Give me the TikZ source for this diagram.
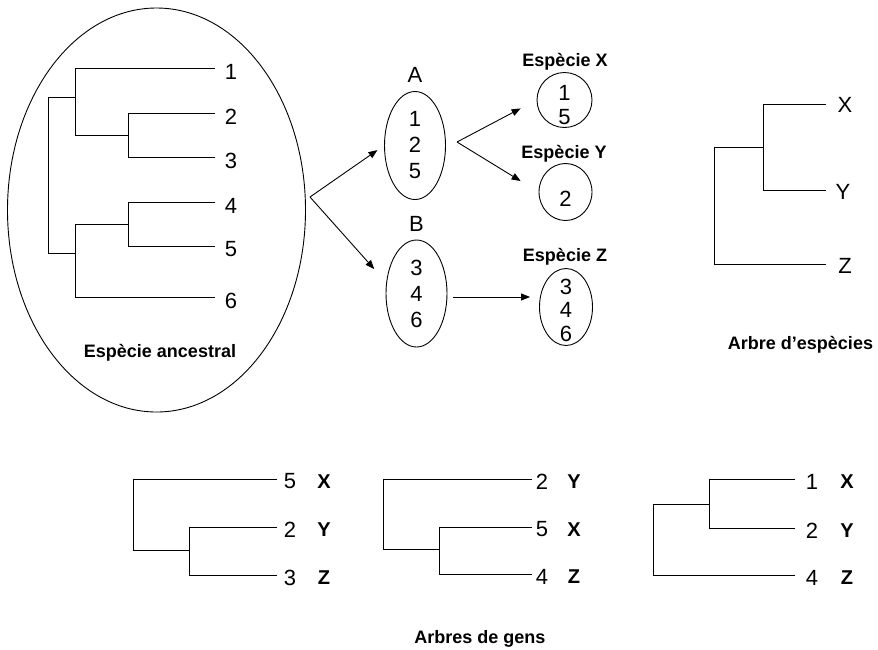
\documentclass[tikz,border=0pt]{standalone}
\usepackage{fontspec}
\setmainfont{Liberation Sans}
\usetikzlibrary{arrows.meta,shapes.geometric,positioning}
\tikzset{
  every picture/.style={line width=0.9pt, line join=miter},
  % Pfeile
  arr/.style={-{Triangle[length=9pt,width=7pt]}},
  % Genpools als Ellipsen
  pool/.style={draw, ellipse, inner sep=0pt, align=center, font=\fontsize{22}{26}\selectfont},
  % Beschriftungen
  num/.style={inner sep=0pt, align=center, font=\fontsize{22}{26}\selectfont},
  sp/.style={inner sep=0pt, font=\fontsize{18}{20}\selectfont\bfseries},
  gl/.style={inner sep=0pt, font=\fontsize{20}{22}\selectfont\bfseries},
  ttl/.style={sp, anchor=base},
}

\begin{document}
\begin{tikzpicture}[x=1pt, y=-1pt]
  \useasboundingbox (0,0) rectangle (878,649);
  % Ancestral species
  \node[draw, ellipse, minimum width=298pt, minimum height=404pt] (anc) at (156.5,210) {};
  \draw (215,68) -| (75,135) -- (128,135);
  \draw (215,113) -| (128,157) -- (215,157);
  \draw (75,97) -- (48,97) |- (75,253);
  \draw (215,202) -| (128,246) -- (215,246);
  \draw (128,224) -| (75,297) -- (215,297);
  \node[num] (a1) at (231,72) {1};
  \node[num] (a2) at (231,116.5) {2};
  \node[num] (a3) at (231,160.5) {3};
  \node[num] (a4) at (231,205.5) {4};
  \node[num] (a5) at (231,249.5) {5};
  \node[num] (a6) at (231,300.5) {6};
  \node[ttl] (lanc) at (160,357) {Espècie ancestral};
  % Populations A and B
  \node[pool, minimum width=61pt, minimum height=108pt] (A) at (415,145.5) {1\\2\\5};
  \node[pool, minimum width=61pt, minimum height=107pt] (B) at (416.5,293.5) {3\\4\\6};
  \node[num, above=8pt of A] (lA) {A};
  \node[num, above=8pt of B] (lB) {B};
  \coordinate (f0) at (310,197);
  \draw[arr, shorten >=8pt] (f0) -- (A.west);
  \draw[arr, shorten >=18pt] (f0) -- (B.160);
  % Species X, Y, Z
  \node[pool, minimum width=55pt, minimum height=55pt] (X) at (564.5,100) {};
  \node[pool, minimum width=53pt, minimum height=57pt] (Y) at (565.5,192) {};
  \node[pool, minimum width=53pt, minimum height=77pt] (Z) at (566,307) {};
  \node[num, font=\fontsize{22}{23.5}\selectfont] (nX) at (564.5,105) {1\\5};
  \node[num] (nY) at (565.5,199) {2};
  \node[num, font=\fontsize{22}{23.5}\selectfont] (nZ) at (566,310) {3\\4\\6};
  \node[ttl] (lX) at (565,66) {Espècie X};
  \node[ttl] (lY) at (564,158) {Espècie Y};
  \node[ttl] (lZ) at (565,261) {Espècie Z};
  \coordinate (fA) at (457,142);
  \draw[arr, shorten >=18pt] (fA) -- (X.west);
  \draw[arr, shorten >=21pt] (fA) -- (Y.west);
  \coordinate (fB) at (453,297);
  \draw[arr, shorten >=9pt] (fB) -- (fB -| Z.west);
  % Species tree
  \draw (826,104) -| (763,190) -- (826,190);
  \draw (763,147) -| (714,264) -- (826,264);
  \node[num] (sX) at (845,105) {X};
  \node[num] (sY) at (843,192) {Y};
  \node[num] (sZ) at (845,266) {Z};
  \node[ttl] (lsp) at (800.5,349.5) {Arbre d’espècies};
  % Gene trees
  \draw (277,479) -| (133,550) -- (189,550);
  \draw (277,527) -| (189,575) -- (277,575);
  \node[num] (g15) at (290,481.5) {5};
  \node[num] (g12) at (290,529.5) {2};
  \node[num] (g13) at (290,577.5) {3};
  \node[gl] (g1X) at (324,482) {X};
  \node[gl] (g1Y) at (324,530) {Y};
  \node[gl] (g1Z) at (324,578) {Z};
  \draw (532,479) -| (383,549) -- (439,549);
  \draw (532,527) -| (439,574) -- (532,574);
  \node[num] (g22) at (542,481.5) {2};
  \node[num] (g25) at (542,529) {5};
  \node[num] (g24) at (542,576.5) {4};
  \node[gl] (g2Y) at (574,482) {Y};
  \node[gl] (g2X) at (574,529.5) {X};
  \node[gl] (g2Z) at (574,577) {Z};
  \draw (795,479) -| (709,528) -- (795,528);
  \draw (709,504) -| (653,575) -- (795,575);
  \node[num] (g31) at (812,481.5) {1};
  \node[num] (g32) at (812,530.5) {2};
  \node[num] (g34) at (812,577.5) {4};
  \node[gl] (g3X) at (847,482) {X};
  \node[gl] (g3Y) at (847,531) {Y};
  \node[gl] (g3Z) at (847,578) {Z};
  \node[ttl] (lgen) at (480,643) {Arbres de gens};
\end{tikzpicture}
\end{document}
